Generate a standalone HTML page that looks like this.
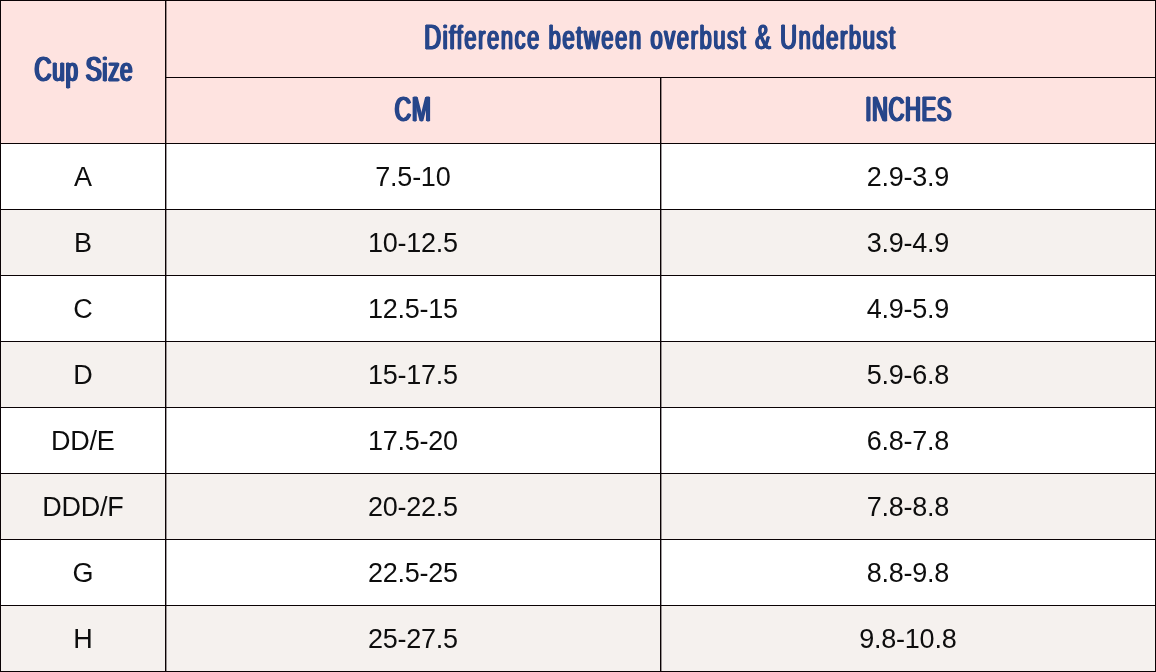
<!DOCTYPE html>
<html lang="en">
<head>
<meta charset="utf-8">
<title>Cup Size Chart</title>
<style>
  html, body { margin: 0; padding: 0; }
  body { width: 1156px; height: 672px; overflow: hidden; background: #0a0204; position: relative;
         font-family: "Liberation Sans", sans-serif; }
  .c { position: absolute; box-sizing: border-box; display: flex; align-items: center; justify-content: center;
       white-space: nowrap; overflow: visible; }
  .pink { background: #fee3e0; }
  .w { background: #ffffff; }
  .g { background: #f5f1ee; }
  .h { color: #27468a; font-weight: normal; font-size: 33.5px; line-height: 1; }
  .h span.t { display: inline-block; transform-origin: 50% 50%; -webkit-text-stroke: 0.8px #27468a;
              text-shadow: 1.3px 0 0 #27468a, -1.3px 0 0 #27468a; letter-spacing: 1.3px; margin-right: -1.3px; }
  .h .u { font-size: 35.9px; }
  #h1 { transform: translateY(-2px) scaleX(0.662); text-shadow: 1.7px 0 0 #27468a, -1.7px 0 0 #27468a; }
  #h2 { transform: translateY(-1.5px) translateX(-1px) scaleX(0.65); text-shadow: 1.4px 0 0 #27468a, -1.4px 0 0 #27468a; letter-spacing: 2.58px; margin-right: -2.58px; }
  #h3 { transform: translateY(-1.5px) scaleX(0.635); text-shadow: 1.8px 0 0 #27468a, -1.8px 0 0 #27468a; }
  #h4 { transform: translateY(-1.5px) scaleX(0.605); text-shadow: 1.9px 0 0 #27468a, -1.9px 0 0 #27468a; }
  .b { color: #0d0d0d; font-size: 27px; line-height: 1; }
  .b span { letter-spacing: -0.25px; margin-right: 0.25px; }
  .b span { display: inline-block; transform: translateY(1px); }
  .c1 { left: 1px; width: 164px; }
  .c2 { left: 166px; width: 494px; }
  .c3 { left: 661px; width: 494px; }
  .vl { position: absolute; top: 0; height: 672px; width: 1px; background: rgba(10,2,4,0.4); }
</style>
</head>
<body>
  <div class="c pink h c1" style="top:1px;height:142px;"><span class="t" id="h1"><span class="u">C</span>up <span class="u">S</span>ize</span></div>
  <div class="c pink h" style="left:166px;width:989px;top:1px;height:76px;"><span class="t" id="h2"><span class="u">D</span>ifference between overbust <span class="u">&amp;</span> <span class="u">U</span>nderbust</span></div>
  <div class="c pink h c2" style="top:78px;height:65px;"><span class="t u" id="h3">CM</span></div>
  <div class="c pink h c3" style="top:78px;height:65px;"><span class="t u" id="h4">INCHES</span></div>

  <div class="c w b c1" style="top:144px;height:65px;"><span>A</span></div>
  <div class="c w b c2" style="top:144px;height:65px;"><span>7.5-10</span></div>
  <div class="c w b c3" style="top:144px;height:65px;"><span>2.9-3.9</span></div>

  <div class="c g b c1" style="top:210px;height:65px;"><span>B</span></div>
  <div class="c g b c2" style="top:210px;height:65px;"><span>10-12.5</span></div>
  <div class="c g b c3" style="top:210px;height:65px;"><span>3.9-4.9</span></div>

  <div class="c w b c1" style="top:276px;height:65px;"><span>C</span></div>
  <div class="c w b c2" style="top:276px;height:65px;"><span>12.5-15</span></div>
  <div class="c w b c3" style="top:276px;height:65px;"><span>4.9-5.9</span></div>

  <div class="c g b c1" style="top:342px;height:65px;"><span>D</span></div>
  <div class="c g b c2" style="top:342px;height:65px;"><span>15-17.5</span></div>
  <div class="c g b c3" style="top:342px;height:65px;"><span>5.9-6.8</span></div>

  <div class="c w b c1" style="top:408px;height:65px;"><span>DD/E</span></div>
  <div class="c w b c2" style="top:408px;height:65px;"><span>17.5-20</span></div>
  <div class="c w b c3" style="top:408px;height:65px;"><span>6.8-7.8</span></div>

  <div class="c g b c1" style="top:474px;height:65px;"><span>DDD/F</span></div>
  <div class="c g b c2" style="top:474px;height:65px;"><span>20-22.5</span></div>
  <div class="c g b c3" style="top:474px;height:65px;"><span>7.8-8.8</span></div>

  <div class="c w b c1" style="top:540px;height:65px;"><span>G</span></div>
  <div class="c w b c2" style="top:540px;height:65px;"><span>22.5-25</span></div>
  <div class="c w b c3" style="top:540px;height:65px;"><span>8.8-9.8</span></div>

  <div class="c g b c1" style="top:606px;height:65px;"><span>H</span></div>
  <div class="c g b c2" style="top:606px;height:65px;"><span>25-27.5</span></div>
  <div class="c g b c3" style="top:606px;height:65px;"><span>9.8-10.8</span></div>

  <div class="vl" style="left:166px;"></div>
  <div class="vl" style="left:661px;top:77px;height:595px;"></div>
</body>
</html>
